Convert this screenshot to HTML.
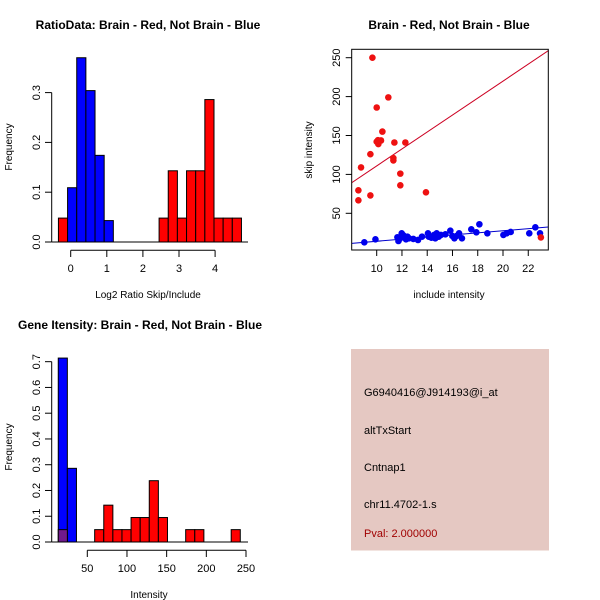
<!DOCTYPE html>
<html><head><meta charset="utf-8"><style>
html,body{margin:0;padding:0;background:#fff}
svg{display:block;font-family:"Liberation Sans","DejaVu Sans",sans-serif}
</style></head><body>
<svg id="c" width="600" height="600" viewBox="0 0 600 600">
<rect width="600" height="600" fill="#fff"/>
<rect x="351" y="349" width="198" height="201.5" fill="#e5c8c2"/>
<text x="364" y="396" font-size="11">G6940416@J914193@i_at</text>
<text x="364" y="434" font-size="11">altTxStart</text>
<text x="364" y="471" font-size="11">Cntnap1</text>
<text x="364" y="508" font-size="11">chr11.4702-1.s</text>
<text x="364" y="537" font-size="11" fill="#a00000">Pval: 2.000000</text>
</svg>
<script>
// Panel 1: ratio histogram
const p1BinStart = -0.34, p1BinWidth = 0.2535;
const p1RedFreq = [0.048,0,0,0,0,0,0,0,0,0,0,0.048,0.143,0.048,0.143,0.143,0.286,0.048,0.048,0.048];
const p1BlueFreq = [0,0.109,0.37,0.304,0.174,0.043,0,0,0,0,0,0,0,0,0,0,0,0,0,0];
const p1XTicks = [0,1,2,3,4];
const p1YTicks = [0.0,0.1,0.2,0.3];
// Panel 2: scatter
const p2RedX = [9.66,10.92,10.0,10.45,10.34,10.0,10.13,11.4,12.27,9.5,11.32,11.32,8.76,8.55,8.55,9.5,11.87,11.87,13.9,23.0,10.1];
const p2RedY = [250,199,186,155,143.6,142,139,141,141,126,121,118,109,79.6,66.7,73,101,86,77,19,144];
const p2BlueX = [9.02,9.9,11.64,11.72,11.82,11.98,12.11,12.19,12.32,12.43,12.56,12.9,13.27,13.59,14.06,14.12,14.33,14.54,14.64,14.75,14.91,15.09,15.44,15.83,15.99,16.15,16.33,16.52,16.75,17.49,17.89,18.13,18.76,20.03,20.29,20.61,22.08,22.56,22.93];
const p2BlueY = [12.7,16.6,19.2,14.4,17.0,24.3,21.7,19.2,16.6,20.0,17.9,17.0,15.7,20.0,24.3,20.0,18.7,22.2,17.9,24.3,20.0,22.2,23.0,27.7,20.9,17.9,20.9,24.3,17.9,29.4,25.6,35.9,24.3,22.2,24.3,26.0,24.3,32.0,24.3];
const p2RedFit = [1.9, 10.9];   // intercept, slope
const p2BlueFit = [0.57, 1.35];
const p2XTicks = [10,12,14,16,18,20,22];
const p2YTicks = [50,100,150,200,250];
// Panel 3: intensity histogram
const p3BinStart = 13.4, p3BinWidth = 11.47;
const p3BlueFreq = [0.714,0.286];
const p3RedFreq = [0.048,0,0,0,0.048,0.143,0.048,0.048,0.095,0.095,0.238,0.095,0,0,0.048,0.048,0,0,0,0.048];
const p3XTicks = [50,100,150,200,250];
const p3YTicks = [0.0,0.1,0.2,0.3,0.4,0.5,0.6,0.7];

const svg = document.getElementById('c');
const NS = 'http://www.w3.org/2000/svg';
function mk(tag, attrs, parent) {
  const e = document.createElementNS(NS, tag);
  for (const k in attrs) e.setAttribute(k, attrs[k]);
  (parent || svg).appendChild(e);
  return e;
}
function txt(x, y, s, size, extra) {
  const t = mk('text', Object.assign({x: x, y: y, 'font-size': size, 'text-anchor': 'middle'}, extra || {}));
  t.textContent = s;
  return t;
}

// ---------- Panel 1 ----------
{
  const sx = v => 70.7 + (v - 0) * 36.1;
  const sy = v => 242 - v * 498;
  const g = mk('g', {});
  
  
  const t = txt(148, 29, 'RatioData: Brain - Red, Not Brain - Blue', 12, {'font-weight': 'bold'});
  
  
  p1RedFreq.forEach((f, i) => {
    if (f <= 0) return;
    const x0 = sx(p1BinStart + i * p1BinWidth), x1 = sx(p1BinStart + (i + 1) * p1BinWidth);
    const r = mk('rect', {x: x0, y: sy(f), width: x1 - x0, height: sy(0) - sy(f), fill: '#ff0000', stroke: '#000', 'stroke-width': 1}, g);
    
    
  });
  p1BlueFreq.forEach((f, i) => {
    if (f <= 0) return;
    const x0 = sx(p1BinStart + i * p1BinWidth), x1 = sx(p1BinStart + (i + 1) * p1BinWidth);
    const r = mk('rect', {x: x0, y: sy(f), width: x1 - x0, height: sy(0) - sy(f), fill: '#0000ff', stroke: '#000', 'stroke-width': 1}, g);
    
    
  });
  mk('line', {x1: 51.7, x2: 248, y1: sy(0), y2: sy(0), stroke: '#000'}, g);
  const ya = mk('line', {x1: 51.7, x2: 51.7, y1: sy(0), y2: sy(p1YTicks[p1YTicks.length - 1]), stroke: '#000'}, g);
  
  
  p1YTicks.forEach(v => {
    mk('line', {x1: 45, x2: 51.7, y1: sy(v), y2: sy(v), stroke: '#000'}, g);
    const l = txt(0, 0, v.toFixed(1), 11, {transform: `translate(40,${sy(v)}) rotate(-90)`});
    
    
  });
  const xa = mk('line', {x1: sx(p1XTicks[0]), x2: sx(p1XTicks[p1XTicks.length - 1]), y1: 250.3, y2: 250.3, stroke: '#000'}, g);
  
  
  p1XTicks.forEach(v => {
    mk('line', {x1: sx(v), x2: sx(v), y1: 250.3, y2: 257, stroke: '#000'}, g);
    const l = txt(sx(v), 272, String(v), 11);
    
    
  });
  const xl = txt(148, 298, 'Log2 Ratio Skip/Include', 10);
  
  
  const yl = txt(0, 0, 'Frequency', 10, {transform: 'translate(12,147) rotate(-90)'});
  
  
}

// ---------- Panel 2 ----------
{
  const sx = v => 376.7 + (v - 10) * 12.63;
  const sy = v => 213.3 - (v - 50) * 0.778;
  const g = mk('g', {});
  
  
  const t = txt(449, 29, 'Brain - Red, Not Brain - Blue', 12, {'font-weight': 'bold'});
  
  
  const L = 351.7, R = 548.3, T = 49.3, B = 250;
  const clip = mk('clipPath', {id: 'p2clip'}, g);
  mk('rect', {x: L, y: T, width: R - L, height: B - T}, clip);
  const xmin = 10 + (L - 376.7) / 12.63, xmax = 10 + (R - 376.7) / 12.63;
  const rl = mk('line', {x1: sx(xmin), x2: sx(xmax), y1: sy(p2RedFit[0] + p2RedFit[1] * xmin), y2: sy(p2RedFit[0] + p2RedFit[1] * xmax), stroke: '#cc0022', 'clip-path': 'url(#p2clip)'}, g);
  
  
  const bl = mk('line', {x1: sx(xmin), x2: sx(xmax), y1: sy(p2BlueFit[0] + p2BlueFit[1] * xmin), y2: sy(p2BlueFit[0] + p2BlueFit[1] * xmax), stroke: '#0000cc', 'clip-path': 'url(#p2clip)'}, g);
  
  
  p2BlueX.forEach((x, i) => {
    const c = mk('circle', {cx: sx(x), cy: sy(p2BlueY[i]), r: 3.3, fill: '#0000ee'}, g);
    
    
  });
  p2RedX.forEach((x, i) => {
    const c = mk('circle', {cx: sx(x), cy: sy(p2RedY[i]), r: 3.3, fill: '#ee1111'}, g);
    
    
  });
  const box = mk('rect', {x: L, y: T, width: R - L, height: B - T, fill: 'none', stroke: '#000'}, g);
  
  
  p2XTicks.forEach(v => {
    mk('line', {x1: sx(v), x2: sx(v), y1: B, y2: B + 6, stroke: '#000'}, g);
    const l = txt(sx(v), 272, String(v), 11);
    
    
  });
  p2YTicks.forEach(v => {
    mk('line', {x1: L - 6, x2: L, y1: sy(v), y2: sy(v), stroke: '#000'}, g);
    const l = txt(0, 0, String(v), 11, {transform: `translate(340,${sy(v)}) rotate(-90)`});
    
    
  });
  const xl = txt(449, 298, 'include intensity', 10);
  
  
  const yl = txt(0, 0, 'skip intensity', 10, {transform: 'translate(312,150) rotate(-90)'});
  
  
}

// ---------- Panel 3 ----------
{
  const sx = v => 87.3 + (v - 50) * 0.7935;
  const sy = v => 542 - v * 257.6;
  const g = mk('g', {});
  
  
  const t = txt(140, 329, 'Gene Itensity: Brain - Red, Not Brain - Blue', 12, {'font-weight': 'bold'});
  
  
  p3BlueFreq.forEach((f, i) => {
    if (f <= 0) return;
    const x0 = sx(p3BinStart + i * p3BinWidth), x1 = sx(p3BinStart + (i + 1) * p3BinWidth);
    const r = mk('rect', {x: x0, y: sy(f), width: x1 - x0, height: sy(0) - sy(f), fill: '#0000ff', stroke: '#000'}, g);
    
    
  });
  p3RedFreq.forEach((f, i) => {
    if (f <= 0) return;
    const x0 = sx(p3BinStart + i * p3BinWidth), x1 = sx(p3BinStart + (i + 1) * p3BinWidth);
    const overlap = i < p3BlueFreq.length && p3BlueFreq[i] > 0;
    const r = mk('rect', {x: x0, y: sy(f), width: x1 - x0, height: sy(0) - sy(f), fill: overlap ? '#701a8c' : '#ff0000', stroke: '#000'}, g);
    
    
  });
  mk('line', {x1: 51.7, x2: 248, y1: sy(0), y2: sy(0), stroke: '#000'}, g);
  const ya = mk('line', {x1: 51.7, x2: 51.7, y1: sy(0), y2: sy(p3YTicks[p3YTicks.length - 1]), stroke: '#000'}, g);
  
  
  p3YTicks.forEach(v => {
    mk('line', {x1: 45, x2: 51.7, y1: sy(v), y2: sy(v), stroke: '#000'}, g);
    const l = txt(0, 0, v.toFixed(1), 11, {transform: `translate(40,${sy(v)}) rotate(-90)`});
    
    
  });
  const xa = mk('line', {x1: sx(p3XTicks[0]), x2: sx(p3XTicks[p3XTicks.length - 1]), y1: 550.3, y2: 550.3, stroke: '#000'}, g);
  
  
  p3XTicks.forEach(v => {
    mk('line', {x1: sx(v), x2: sx(v), y1: 550.3, y2: 557, stroke: '#000'}, g);
    const l = txt(sx(v), 572, String(v), 11);
    
    
  });
  const xl = txt(149, 598, 'Intensity', 10);
  
  
  const yl = txt(0, 0, 'Frequency', 10, {transform: 'translate(12,447) rotate(-90)'});
  
  
}
</script>
</body></html>
